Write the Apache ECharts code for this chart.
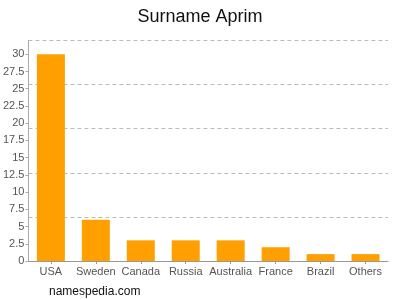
<!DOCTYPE html>
<html><head><meta charset="utf-8">
<script src="https://cdn.jsdelivr.net/npm/echarts@6/dist/echarts.min.js"></script>
<style>html,body{margin:0;padding:0;background:#fff}#c{width:400px;height:300px}</style>
</head><body><div id="c"></div>
<script>
var categories = ["USA","Sweden","Canada","Russia","Australia","France","Brazil","Others"];
var values = [30, 6, 3, 3, 3, 2, 1, 1];
var yTickLabels = [0, 2.5, 5, 7.5, 10, 12.5, 15, 17.5, 20, 22.5, 25, 27.5, 30];
var gridLineStep = 6.4;
var yMax = 32;

var chart = echarts.init(document.getElementById('c'), null, {renderer:'canvas'});
var font = 'Liberation Sans, Arial, sans-serif';
chart.setOption({
  animation:false,
  title:{text:'Surname Aprim', left:'center', top:3, textStyle:{fontFamily:font, fontSize:18, fontWeight:'normal', color:'#111'}},
  graphic:[{type:'text', left:49, top:286, style:{text:'namespedia.com', font:'12px Liberation Sans, Arial, sans-serif', fill:'#111'}}],
  grid:{left:28, right:12, top:40.5, bottom:39, containLabel:false},
  xAxis:{type:'category', data:categories,
    axisLine:{lineStyle:{color:'#999'}},
    axisTick:{show:true, alignWithLabel:true, length:3, lineStyle:{color:'#999'}},
    axisLabel:{fontFamily:font, fontSize:11, color:'#555', margin:5, interval:0}},
  yAxis:[
    {type:'value', min:0, max:yMax, position:'left',
      axisLine:{show:true, lineStyle:{color:'#aaa'}},
      axisTick:{show:true, length:3, customValues:yTickLabels, lineStyle:{color:'#aaa'}},
      axisLabel:{customValues:yTickLabels, fontFamily:font, fontSize:11, color:'#555', margin:4},
      splitLine:{show:false}},
    {type:'value', min:0, max:yMax, interval:gridLineStep, position:'left',
      axisLine:{show:false}, axisTick:{show:false}, axisLabel:{show:false},
      splitLine:{show:true, lineStyle:{color:'#bbb', type:[4,3], width:1}}}
  ],
  series:[{type:'bar', data:values, yAxisIndex:0, barWidth:28, itemStyle:{color:'#ffa000'}}]
});
</script></body></html>
